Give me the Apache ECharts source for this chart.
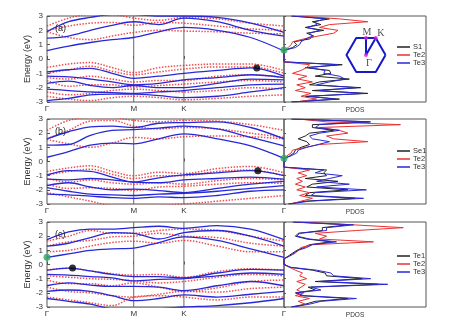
<!DOCTYPE html>
<html><head><meta charset="utf-8">
<script src="https://cdn.jsdelivr.net/npm/echarts@6/dist/echarts.min.js"></script>
<style>html,body{margin:0;padding:0;background:#fff}#c{width:474px;height:331px}</style>
</head><body><div id="c"></div>
<script>
// ---- k-path (Γ-M-K-Γ) ----
const kPos = [0, 0.144, 0.289, 0.433, 0.577, 0.744, 0.911, 1.133, 1.355, 1.577];
const kTicks = [0, 0.577, 0.911, 1.577];
const kLabels = ['Γ', 'M', 'K', 'Γ'];
const panelLabels = ['(a)', '(b)', '(c)'];

// ---- panel (a) bands ----
const aBlue = [
  [0.58, 0.9, 1.15, 1.35, 1.5, 1.9, 2.2, 2.0, 1.5, 0.56],
  [1.45, 1.6, 2.0, 2.35, 2.6, 2.4, 2.85, 2.6, 2.0, 1.6],
  [1.9, 2.6, 2.9, 3.1, 3.1, 3.0, 3.0, 2.9, 2.5, 1.85],
  [-0.9, -0.75, -0.65, -1.0, -1.35, -1.2, -1.0, -0.8, -0.62, -1.2],
  [-1.2, -1.25, -1.4, -1.6, -1.8, -1.7, -1.45, -1.3, -1.1, -1.3],
  [-1.7, -1.55, -1.85, -2.0, -1.85, -2.0, -2.0, -1.7, -1.4, -1.45],
  [-2.1, -2.2, -2.3, -2.35, -2.4, -2.3, -2.2, -2.0, -1.8, -1.75],
  [-2.9, -2.75, -2.5, -2.45, -2.45, -2.55, -2.7, -2.6, -2.3, -2.0]
];
const aRed = [
  [1.9, 1.5, 1.35, 1.6, 1.85, 2.0, 1.95, 1.9, 1.8, 1.75],
  [2.0, 2.3, 2.5, 2.55, 2.35, 2.55, 2.5, 2.3, 2.1, 2.0],
  [2.3, 2.85, 3.1, 3.1, 2.85, 2.7, 2.9, 2.8, 2.5, 2.3],
  [-0.6, -0.35, -0.25, -0.6, -0.95, -0.6, -0.45, -0.35, -0.35, -0.8],
  [-1.0, -0.75, -0.5, -0.85, -1.1, -0.9, -0.7, -0.55, -0.55, -1.0],
  [-1.3, -1.4, -1.2, -1.4, -1.6, -1.5, -1.5, -1.2, -1.1, -1.3],
  [-1.5, -1.9, -1.8, -1.8, -1.95, -1.85, -1.75, -1.6, -1.5, -1.6],
  [-2.3, -2.5, -2.4, -2.2, -2.1, -2.2, -2.3, -2.2, -2.0, -2.1],
  [-2.6, -2.8, -2.9, -2.7, -2.6, -2.7, -2.85, -2.75, -2.6, -2.5]
];
// ---- panel (b) bands ----
const bBlue = [
  [0.3, 0.7, 1.15, 1.3, 1.25, 1.6, 1.95, 1.6, 1.1, 0.22],
  [1.15, 1.2, 1.85, 2.2, 2.25, 2.35, 2.5, 2.3, 1.7, 1.1],
  [1.6, 2.1, 2.45, 2.5, 2.4, 2.7, 2.75, 2.8, 2.4, 1.6],
  [-0.95, -0.65, -0.7, -1.1, -1.45, -1.15, -0.95, -0.8, -0.65, -1.0],
  [-1.25, -1.3, -1.2, -1.3, -1.45, -1.5, -1.3, -1.2, -1.1, -1.25],
  [-1.7, -1.5, -1.8, -2.0, -1.95, -2.05, -2.2, -1.9, -1.6, -1.4],
  [-1.85, -2.1, -2.3, -2.35, -2.4, -2.3, -2.25, -2.1, -1.9, -1.7],
  [-2.3, -2.35, -2.45, -2.55, -2.6, -2.5, -2.55, -2.4, -2.1, -2.0]
];
const bRed = [
  [1.55, 1.25, 1.0, 1.3, 1.7, 1.6, 1.75, 1.8, 1.75, 1.6],
  [1.6, 2.2, 2.85, 2.9, 2.5, 2.3, 2.4, 2.3, 2.0, 1.7],
  [2.2, 2.9, 3.1, 3.1, 2.9, 2.8, 2.9, 2.85, 2.6, 2.2],
  [-0.7, -0.45, -0.3, -0.7, -1.0, -0.75, -0.85, -0.5, -0.35, -0.8],
  [-0.95, -0.7, -0.55, -0.9, -1.2, -1.0, -1.0, -0.7, -0.6, -1.0],
  [-1.2, -1.45, -1.3, -1.5, -1.6, -1.5, -1.6, -1.35, -1.2, -1.3],
  [-1.6, -1.9, -1.85, -1.9, -2.05, -1.8, -1.75, -1.6, -1.5, -1.55],
  [-2.2, -2.5, -2.8, -3.1, -3.1, -3.1, -3.0, -2.8, -2.6, -2.4]
];
// ---- panel (c) bands ----
const cBlue = [
  [0.5, 0.75, 1.0, 1.1, 1.15, 1.55, 1.95, 1.7, 1.1, 0.5],
  [1.3, 1.5, 1.9, 2.25, 2.2, 1.8, 2.25, 2.4, 2.0, 1.3],
  [1.75, 2.3, 2.5, 2.5, 2.6, 2.7, 2.55, 2.75, 2.5, 1.75],
  [-0.4, -0.25, -0.45, -0.7, -0.85, -0.85, -0.95, -0.6, -0.35, -0.4],
  [-0.7, -0.75, -0.85, -0.95, -1.15, -1.05, -1.0, -0.8, -0.6, -0.7],
  [-1.5, -1.3, -1.45, -1.55, -1.55, -1.6, -1.85, -1.5, -1.2, -1.5],
  [-1.9, -1.8, -1.9, -2.2, -2.55, -2.4, -2.15, -2.3, -2.1, -1.9],
  [-2.4, -2.6, -2.8, -3.1, -3.1, -3.1, -3.0, -2.9, -2.7, -2.4]
];
const cRed = [
  [0.9, 1.0, 1.3, 1.55, 1.65, 1.5, 1.7, 1.3, 0.9, 0.9],
  [1.3, 1.6, 1.7, 1.95, 2.0, 2.2, 2.0, 1.9, 1.5, 1.3],
  [1.65, 2.0, 2.4, 2.2, 2.2, 2.4, 2.5, 2.4, 2.0, 1.65],
  [-0.4, -0.25, -0.45, -0.65, -0.75, -0.7, -0.9, -0.5, -0.3, -0.4],
  [-0.8, -0.9, -1.0, -1.05, -1.15, -1.3, -1.2, -0.9, -0.7, -0.8],
  [-1.1, -1.35, -1.35, -1.5, -1.3, -1.6, -1.9, -1.65, -1.2, -1.1],
  [-1.6, -1.9, -2.0, -2.2, -2.3, -2.1, -1.9, -1.95, -1.7, -1.6],
  [-2.3, -2.5, -2.7, -2.9, -2.3, -2.2, -2.3, -2.5, -2.3, -2.3]
];

// ---- band-edge markers [k, E] ----
const greenDots = [[1.577, 0.63], [1.577, 0.23], [0, 0.51]];
const blackDots = [[1.396, -0.62], [1.403, -0.65], [0.170, -0.24]];

// ---- PDOS ----
const pdosEnergy = [-3.0, -2.8, -2.6, -2.4, -2.2, -2.0, -1.8, -1.6, -1.4, -1.2, -1.0, -0.8, -0.6, -0.4, -0.2, 0.0,
  0.2, 0.4, 0.6, 0.8, 1.0, 1.2, 1.4, 1.6, 1.8, 2.0, 2.2, 2.4, 2.6, 2.8, 3.0];
const aNames = ['S1', 'Te2', 'Te3'];
const aDos1 = [0.5, 3.9, 1.5, 5.9, 2.0, 5.4, 1.8, 2.5, 4.6, 2.2, 3.3, 3.2, 1.5, 4.1, 0, 0, 0, 0, 0, 0.6, 0.9, 0.7, 1.8, 2.1, 1.6, 2.8, 1.5, 2.6, 2.0, 3.2, 0.5];
const aDos2 = [0.8, 2.3, 1.2, 1.9, 0.8, 1.5, 0.9, 2.0, 1.0, 1.6, 0.6, 1.2, 1.6, 1.8, 0, 0, 0, 0, 0, 0.3, 0.5, 0.6, 1.4, 2.4, 3.5, 3.8, 2.5, 3.2, 5.9, 3.9, 1.0];
const aDos3 = [0.6, 3.6, 1.8, 5.6, 2.5, 5.1, 2.3, 3.2, 4.3, 3.9, 2.8, 2.9, 1.7, 3.8, 0, 0, 0, 0, 0, 0.8, 1.1, 1.2, 1.5, 2.0, 1.8, 2.5, 1.6, 2.3, 2.2, 2.9, 0.6];
const bNames = ['Se1', 'Te2', 'Te3'];
const bDos1 = [0.3, 1.5, 5.0, 1.5, 1.8, 4.5, 1.6, 2.0, 3.8, 1.5, 3.0, 2.8, 3.0, 0, 0, 0, 0, 0.4, 0.7, 0.8, 1.2, 1.8, 1.6, 1.0, 1.5, 1.8, 3.5, 2.0, 2.0, 6.0, 0.5];
const bDos2 = [0.5, 1.2, 2.0, 1.1, 1.8, 0.9, 1.5, 0.8, 1.3, 0.9, 1.6, 1.0, 1.8, 0, 0, 0, 0, 0.2, 0.5, 0.6, 1.5, 2.5, 5.9, 3.5, 3.0, 4.5, 3.9, 2.5, 8.2, 3.0, 1.0];
const bDos3 = [0.4, 1.8, 5.6, 1.9, 2.2, 5.8, 2.3, 4.6, 2.3, 3.2, 4.1, 2.2, 2.8, 0, 0, 0, 0, 0.5, 0.9, 1.0, 1.6, 2.4, 3.2, 2.0, 1.8, 2.5, 3.9, 2.2, 2.5, 6.1, 0.6];
const cNames = ['Te1', 'Te2', 'Te3'];
const cDos1 = [0.5, 1.5, 2.2, 4.5, 1.2, 0.8, 2.2, 1.7, 6.6, 2.2, 5.5, 3.0, 2.9, 2.0, 0.4, 0, 0, 0, 0.3, 0.6, 0.9, 1.4, 1.8, 3.3, 1.6, 0.8, 1.0, 2.7, 2.7, 4.5, 0.6];
const cDos2 = [0.8, 1.5, 1.0, 1.8, 0.8, 1.4, 0.9, 1.2, 1.5, 0.9, 1.6, 1.1, 1.3, 0.8, 0.4, 0, 0, 0, 0.4, 0.8, 1.0, 1.2, 2.0, 6.3, 2.5, 3.0, 2.2, 5.1, 8.4, 4.9, 1.0];
const cDos3 = [0.6, 1.8, 2.6, 5.1, 1.4, 0.9, 2.6, 1.9, 7.3, 2.5, 6.1, 3.5, 3.3, 2.3, 0.5, 0, 0, 0, 0.4, 0.7, 1.0, 1.6, 2.0, 3.7, 1.8, 0.9, 1.1, 3.0, 3.0, 4.9, 0.7];

// ---- Brillouin-zone inset ----
const hexVerts = [[1, 0], [0.5, 0.866], [-0.5, 0.866], [-1, 0], [-0.5, -0.866], [0.5, -0.866], [1, 0]];
const ibzPath = [[0, 0], [0, 0.866], [0.5, 0.866], [0, 0]];
const hsNames = ['Γ', 'M', 'K'];
const hsCoords = [[0, 0], [0, 0.866], [0.5, 0.866]];

const FONT = 'Liberation Sans';
const BLUE = '#2828d8', RED = '#ec3030', BLACK = '#222222';

const panels = [
  {blue: aBlue, red: aRed, dos: [aDos1, aDos2, aDos3], names: aNames, top: 16, h: 86, legTop: 43},
  {blue: bBlue, red: bRed, dos: [bDos1, bDos2, bDos3], names: bNames, top: 119, h: 85, legTop: 147},
  {blue: cBlue, red: cRed, dos: [cDos1, cDos2, cDos3], names: cNames, top: 222, h: 85, legTop: 252}
];

const grid = [], xAxis = [], yAxis = [], series = [], legend = [], title = [];
panels.forEach((p, i) => {
  const gb = grid.length;
  grid.push({left: 47, top: p.top, width: 237, height: p.h, show: true, borderColor: '#555', borderWidth: 1, backgroundColor: 'transparent'});
  grid.push({left: 284, top: p.top, width: 142, height: p.h, show: true, borderColor: '#555', borderWidth: 1, backgroundColor: 'transparent'});
  xAxis.push({type: 'value', gridIndex: gb, min: 0, max: kTicks[3],
    axisLine: {show: false}, splitLine: {show: false},
    axisTick: {show: true, inside: true, length: 3, customValues: kTicks, lineStyle: {color: '#555'}},
    axisLabel: {show: true, customValues: kTicks, margin: 3, fontSize: 8, fontFamily: FONT, color: '#333',
      formatter: v => kLabels[kTicks.indexOf(v)] || ''}});
  xAxis.push({type: 'value', gridIndex: gb + 1, min: 0, max: 10,
    axisLine: {show: false}, splitLine: {show: false}, axisTick: {show: false}, axisLabel: {show: false},
    name: 'PDOS', nameLocation: 'middle', nameGap: 5, nameTextStyle: {fontSize: 6.5, fontFamily: FONT, color: '#333'}});
  yAxis.push({type: 'value', gridIndex: gb, min: -3, max: 3, interval: 1,
    axisLine: {show: false}, splitLine: {show: false},
    axisTick: {show: true, inside: true, length: 3, lineStyle: {color: '#555'}},
    axisLabel: {fontSize: 8, fontFamily: FONT, color: '#333', margin: 4},
    name: 'Energy (eV)', nameLocation: 'middle', nameGap: 14, nameRotate: 90,
    nameTextStyle: {fontSize: 9, fontFamily: FONT, color: '#333'}});
  yAxis.push({type: 'value', gridIndex: gb + 1, min: -3, max: 3, interval: 1,
    axisLine: {show: false}, splitLine: {show: false},
    axisTick: {show: true, inside: true, length: 2, lineStyle: {color: '#555'}},
    axisLabel: {show: false}});
  title.push({text: panelLabels[i], left: 50, top: p.top + 3, textStyle: {fontSize: 9, fontWeight: 'normal', fontFamily: FONT, color: '#222'}});

  // vertical high-symmetry lines at M and K
  [kTicks[1], kTicks[2]].forEach(k => {
    series.push({type: 'line', xAxisIndex: gb, yAxisIndex: gb, symbol: 'none', silent: true,
      data: [[k, -3], [k, 3]], lineStyle: {color: '#666', width: 1}, z: 1});
  });
  p.red.forEach(band => {
    series.push({type: 'line', xAxisIndex: gb, yAxisIndex: gb, symbol: 'none', smooth: 0.35, silent: true,
      data: band.map((e, m) => [kPos[m], e]),
      lineStyle: {color: RED, width: 1.5, type: [1.5, 1.5], opacity: 0.85}, z: 2});
  });
  p.blue.forEach(band => {
    series.push({type: 'line', xAxisIndex: gb, yAxisIndex: gb, symbol: 'none', smooth: 0.35, silent: true,
      data: band.map((e, m) => [kPos[m], e]),
      lineStyle: {color: BLUE, width: 1.3}, z: 3});
  });
  series.push({type: 'scatter', xAxisIndex: gb, yAxisIndex: gb, symbolSize: 7, data: [greenDots[i]],
    itemStyle: {color: '#2ca860'}, z: 10});
  series.push({type: 'scatter', xAxisIndex: gb, yAxisIndex: gb, symbolSize: 7, data: [blackDots[i]],
    itemStyle: {color: '#000'}, z: 10});

  const cols = [BLACK, RED, BLUE];
  [1, 0, 2].forEach(n => {
    series.push({type: 'line', name: p.names[n], xAxisIndex: gb + 1, yAxisIndex: gb + 1, symbol: 'none', silent: true,
      data: p.dos[n].map((d, m) => [d, pdosEnergy[m]]),
      itemStyle: {color: cols[n]}, lineStyle: {color: cols[n], width: 1}, z: 3 + n});
  });
  legend.push({data: p.names, left: 397, top: p.legTop, orient: 'vertical', icon: 'rect', itemWidth: 13, itemHeight: 1.5, itemGap: 0,
    selectedMode: false, textStyle: {fontSize: 7.5, lineHeight: 7.5, fontFamily: FONT, color: '#333', padding: [0, 0, 0, -2]}, padding: 0});
});

// inset Brillouin zone
const gh = grid.length;
grid.push({left: 344.5, top: 33.5, width: 43, height: 43});
xAxis.push({type: 'value', gridIndex: gh, min: -1.1, max: 1.1, show: false});
yAxis.push({type: 'value', gridIndex: gh, min: -1.1, max: 1.1, show: false});
series.push({type: 'line', xAxisIndex: gh, yAxisIndex: gh, symbol: 'none', silent: true, data: hexVerts,
  lineStyle: {color: '#1818c8', width: 2}, z: 5});
series.push({type: 'line', xAxisIndex: gh, yAxisIndex: gh, symbol: 'none', silent: true, data: ibzPath,
  lineStyle: {color: '#1818c8', width: 2}, z: 5});
const hsOffsets = [[3, 8], [1, -6], [5, -5]];
series.push({type: 'scatter', xAxisIndex: gh, yAxisIndex: gh, symbolSize: 4, silent: true,
  data: hsNames.map((n, i) => ({name: n, value: hsCoords[i],
    label: {show: true, formatter: '{b}', position: 'inside', offset: hsOffsets[i],
      fontFamily: 'Liberation Serif', fontSize: 10, color: '#222'}})),
  itemStyle: {color: '#e020e0'}, z: 6});

const chart = echarts.init(document.getElementById('c'), null, {renderer: 'canvas'});
chart.setOption({animation: false, backgroundColor: '#fff', textStyle: {fontFamily: FONT},
  title, grid, xAxis, yAxis, legend, series});
</script></body></html>
